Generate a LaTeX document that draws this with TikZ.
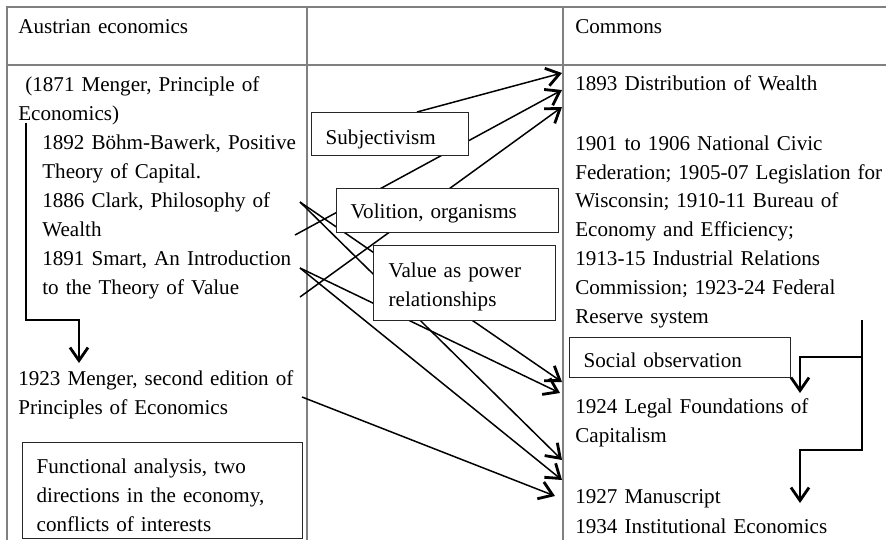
\documentclass[tikz,border=0pt]{standalone}
\usepackage{fontspec}
\setmainfont{Liberation Serif}
\usetikzlibrary{arrows.meta,calc,backgrounds}

\begin{document}
\begin{tikzpicture}[x=0.2mm,y=-0.2mm,font=\fontsize{12}{16.5}\selectfont,
  txt/.style={text width=#1,align=left,inner sep=0pt,anchor=base west},
  txt/.default=62mm,
  box/.style={draw=black!85,line width=0.8pt,fill=white,align=left,inner ysep=0pt,inner xsep=2.8mm,anchor=north west},
  rule/.style={gray,line width=0.7pt},
  arr/.style={-{Straight Barb[length=2.6mm,width=3.6mm,line width=1.6pt]},line width=0.85pt}]
\useasboundingbox (0,0) rectangle (886,540);
% left column
\node[txt] (austria) at (18,33) {Austrian economics};
\node[txt=57.4mm] (menger) at (18,91) {\hspace*{1.4mm}(1871 Menger, Principle of\\Economics)};
\node[txt=52.6mm] (bohm) at (42,149) {1892 Böhm-Bawerk, Positive\\Theory of Capital.};
\node[txt=52.6mm] (clark) at (42,207) {1886 Clark, Philosophy of\\Wealth};
\node[txt=52.6mm] (smart) at (42,265) {1891 Smart, An Introduction\\to the Theory of Value};
\node[txt=57.4mm] (mengertwo) at (18,385) {1923 Menger, second edition of\\Principles of Economics};
\node[box,text width=50.4mm,text height=6.2mm,text depth=13mm] (functional) at (22,442)
  {Functional analysis, two\\directions in the economy,\\conflicts of interests};
% middle column
\node[box,text width=25.8mm,text height=6.4mm,text depth=2.2mm] (subj) at (311,112) {Subjectivism};
\node[box,text width=38.8mm,text height=6mm,text depth=2.8mm] (volition) at (336,188) {Volition, organisms};
\node[box,text width=30.4mm,inner xsep=3mm,text height=6.4mm,text depth=8.6mm] (power) at (373,245)
  {Value as power\\relationships};
% right column
\node[txt] (commons) at (575,33) {Commons};
\node[txt] (dist) at (575,90) {1893 Distribution of Wealth};
\node[txt] (civic) at (575,150) {1901 to 1906 National Civic\\Federation; 1905-07 Legislation for\\Wisconsin; 1910-11 Bureau of\\Economy and Efficiency;\\1913-15 Industrial Relations\\Commission; 1923-24 Federal\\Reserve system};
\node[box,text width=38.6mm,text height=6mm,text depth=2mm] (social) at (569,337) {Social observation};
\node[txt] (legal) at (575,413) {1924 Legal Foundations of\\Capitalism};
\node[txt] (manus) at (575,503) {1927 Manuscript};
\node[txt] (inst) at (575,533) {1934 Institutional Economics};

\begin{scope}[on background layer]
% table
\draw[rule] (7,540) -- (7,7) -- (886,7);
\draw[rule] (7,65) -- (886,65);
\draw[rule] (307,7) -- (307,540);
\draw[rule] (563,7) -- (563,540);
% influences
\draw[arr] ($(subj.north west)+(106,0)$) -- ($(dist.base west)+(-13,-17)$);
\draw[arr] ($(clark.base west)+(253,28)$) -- ($(dist.base west)+(-13,0)$);
\draw[arr] ($(smart.base west)+(258,32)$) -- ($(dist.base west)+(-13,17)$);
\draw[arr] ($(clark.base west)+(258,-5)$) -- ($(legal.base west)+(-13,-31)$);
\draw[arr] ($(smart.base west)+(258,3)$) -- ($(legal.base west)+(-15,-20)$);
\draw[arr] ($(clark.base west)+(258,-5)$) -- ($(manus.base west)+(-13,-43)$);
\draw[arr] ($(smart.base west)+(258,3)$) -- ($(manus.base west)+(-13,-23)$);
\draw[arr] ($(mengertwo.base west)+(284,12)$) -- ($(manus.base west)+(-20,-7)$);
% brackets
\draw[arr] ($(menger.base west)+(8,32)$) -- ++(0,197) -| ($(mengertwo.base west)+(61,-22)$);
\draw[arr] ($(civic.base west)+(287,170)$) -- ++(0,37) -| ($(legal.base west)+(225,-20)$);
\draw[arr] ($(civic.base west)+(287,170)$) -- ++(0,130) -| ($(manus.base west)+(225,0)$);
\end{scope}
\end{tikzpicture}
\end{document}
